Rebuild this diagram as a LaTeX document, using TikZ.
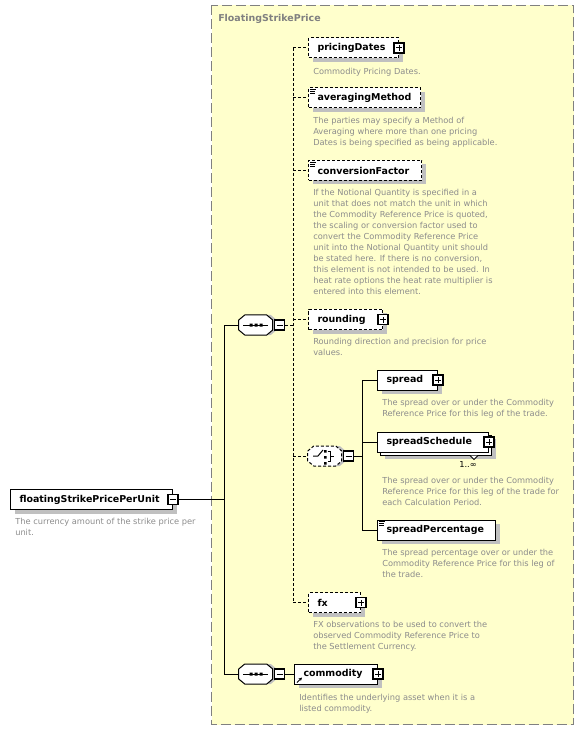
\documentclass[tikz,border=0pt]{standalone}
\usepackage{fontspec}
\setmainfont{DejaVu Sans}
\usetikzlibrary{shadows,arrows.meta}

\definecolor{panelyellow}{RGB}{255,255,204}
\definecolor{panelgray}{RGB}{128,128,128}
\definecolor{descgray}{RGB}{140,140,140}
\definecolor{shadowgray}{RGB}{192,192,192}

\tikzset{
  elembase/.style={draw, fill=white, line width=0.75pt, inner xsep=6.75pt, inner ysep=0pt,
    minimum height=15pt, align=left, anchor=west, font=\bfseries\fontsize{7.1}{8.5}\selectfont},
  elem/.style={elembase, drop shadow={shadow xshift=3pt, shadow yshift=-3pt, fill=shadowgray, opacity=1}},
  optelem/.style={elem, dash pattern=on 2.25pt off 1.5pt},
  plusbox/.style={draw, fill=white, line width=0.9pt, minimum size=7.5pt, inner sep=0pt,
    path picture={\draw[line width=0.75pt] (path picture bounding box.center) ++(-3,0) -- ++(6,0)
      (path picture bounding box.center) ++(0,-3) -- ++(0,6);}},
  minusbox/.style={draw, fill=white, line width=0.9pt, minimum size=7.5pt, inner sep=0pt,
    path picture={\draw[line width=0.75pt] (path picture bounding box.center) ++(-3,0) -- ++(6,0);}},
  seqicon/.style={minimum width=25.5pt, minimum height=15pt, inner sep=0pt},
  octline/.style={line width=0.75pt, fill=white},
  desc/.style={anchor=north west, inner sep=0pt, align=left, text=descgray, font=\fontsize{6.2}{8.25}\selectfont},
  optline/.style={line width=0.75pt, dash pattern=on 2.25pt off 1.5pt},
  reqline/.style={line width=0.75pt}
}

\begin{document}
\begin{tikzpicture}[x=0.75pt,y=0.75pt,yscale=-1,xscale=1]
\useasboundingbox (0,0) rectangle (584,730);

% Panel
\draw [panelgray, fill=panelyellow, line width=0.75pt, dash pattern=on 7.5pt off 3pt] (211.5,5.5) rectangle (573.5,724.5);
% Text Node
\node [anchor=west, inner sep=0pt, text=panelgray, font=\bfseries\fontsize{7.1}{8.5}\selectfont] (panelTitle) at (218,19) {FloatingStrikePrice};

% Root element
\node [elem, text width=108pt] (floatingStrikePricePerUnit) at (10,499.5) {floatingStrikePricePerUnit};
\node [minusbox] (rootMinus) at (floatingStrikePricePerUnit.east) {};
% Text Node
\node [desc] (rootDesc) at (15,517.7) {The currency amount of the strike price per\\unit.};

% Sequence icons
\node [seqicon] (seqA) at (256,325) {};
\fill [shadowgray] (seqA.west) ++(4,-1) -- ++(0,-4) -- ++(6,-5) -- ++(22,0) -- ++(6,5) -- ++(0,10) -- ++(-6,5) -- ++(-22,0) -- ++(-6,-5) -- cycle;
\draw [octline] (seqA.west) ++(0,-5) -- ++(6,-5) -- ++(22,0) -- ++(6,5) -- ++(0,10) -- ++(-6,5) -- ++(-22,0) -- ++(-6,-5) -- cycle;
\node [minusbox, anchor=west] (seqAMinus) at ([xshift=0.5pt]seqA.east) {};
\draw [reqline] (seqA.center) ++(-13,0) -- ++(25,0);
\fill (seqA.center) ++(-6.5,-1.5) rectangle ++(3,3) ++(2,-3) rectangle ++(3,3) ++(2,-3) rectangle ++(3,3);
\node [seqicon] (seqB) at (256,674) {};
\fill [shadowgray] (seqB.west) ++(4,-1) -- ++(0,-4) -- ++(6,-5) -- ++(22,0) -- ++(6,5) -- ++(0,10) -- ++(-6,5) -- ++(-22,0) -- ++(-6,-5) -- cycle;
\draw [octline] (seqB.west) ++(0,-5) -- ++(6,-5) -- ++(22,0) -- ++(6,5) -- ++(0,10) -- ++(-6,5) -- ++(-22,0) -- ++(-6,-5) -- cycle;
\node [minusbox, anchor=west] (seqBMinus) at ([xshift=0.5pt]seqB.east) {};
\draw [reqline] (seqB.center) ++(-13,0) -- ++(25,0);
\fill (seqB.center) ++(-6.5,-1.5) rectangle ++(3,3) ++(2,-3) rectangle ++(3,3) ++(2,-3) rectangle ++(3,3);

% pricingDates
\node [optelem, text width=54pt] (pricingDates) at (308,48) {pricingDates};
\node [plusbox] (pricingDatesPlus) at (pricingDates.east) {};
% Text Node
\node [desc] (pricingDatesDesc) at (313,67.7) {Commodity Pricing Dates.};

% averagingMethod
\node [optelem, text width=70.5pt] (averagingMethod) at (308,98) {averagingMethod};
\draw [line width=0.6pt] (averagingMethod.north west) ++(2,2) -- ++(6,0) ++(-6,2) -- ++(5,0) ++(-5,2) -- ++(5,0);
% Text Node
\node [desc] (averagingMethodDesc) at (313,116.7) {The parties may specify a Method of\\Averaging where more than one pricing\\Dates is being specified as being applicable.};

% conversionFactor
\node [optelem, text width=71.25pt] (conversionFactor) at (308,170.5) {conversionFactor};
\draw [line width=0.6pt] (conversionFactor.north west) ++(2,2) -- ++(6,0) ++(-6,2) -- ++(5,0) ++(-5,2) -- ++(5,0);
% Text Node
\node [desc] (conversionFactorDesc) at (313,189.4) {If the Notional Quantity is specified in a\\unit that does not match the unit in which\\the Commodity Reference Price is quoted,\\the scaling or conversion factor used to\\convert the Commodity Reference Price\\unit into the Notional Quantity unit should\\be stated here. If there is no conversion,\\this element is not intended to be used. In\\heat rate options the heat rate multiplier is\\entered into this element.};

% rounding
\node [optelem, text width=42pt] (rounding) at (308,319.5) {rounding};
\node [plusbox] (roundingPlus) at (rounding.east) {};
% Text Node
\node [desc] (roundingDesc) at (313,338.4) {Rounding direction and precision for price\\values.};

% Choice icon
\node [seqicon] (spreadChoice) at (325,456) {};
\fill [shadowgray] (spreadChoice.west) ++(4,-1) -- ++(0,-4) -- ++(6,-5) -- ++(22,0) -- ++(6,5) -- ++(0,10) -- ++(-6,5) -- ++(-22,0) -- ++(-6,-5) -- cycle;
\draw [octline, dash pattern=on 2.25pt off 1.5pt] (spreadChoice.west) ++(0,-5) -- ++(6,-5) -- ++(22,0) -- ++(6,5) -- ++(0,10) -- ++(-6,5) -- ++(-22,0) -- ++(-6,-5) -- cycle;
\node [minusbox, anchor=west] (spreadChoiceMinus) at ([xshift=0.5pt]spreadChoice.east) {};
\draw [line width=0.75pt] (spreadChoice.center) ++(-12,0) -- ++(5,0) -- ++(5,-6);
\fill (spreadChoice.center) ++(-1,-6) rectangle ++(2.5,2.5) ++(-2.5,3.5) rectangle ++(2.5,2.5) ++(-2.5,3.5) rectangle ++(2.5,2.5);
\draw [line width=0.75pt] (spreadChoice.center) ++(2.5,-5) -- ++(3,0) -- ++(0,10) -- ++(-3,0) ++(3,-5) -- ++(3,0);

% spread
\node [elem, text width=31.5pt] (spread) at (377,380) {spread};
\node [plusbox] (spreadPlus) at (spread.east) {};
% Text Node
\node [desc] (spreadDesc) at (382,399.4) {The spread over or under the Commodity\\Reference Price for this leg of the trade.};

% spreadSchedule
\node [elem, text width=69.75pt] (spreadScheduleBack) at (380,445) {};
\node [elembase, text width=69.75pt] (spreadSchedule) at (377,442) {spreadSchedule};
\node [plusbox] (spreadSchedulePlus) at (spreadSchedule.east) {};
\draw [line width=0.75pt, fill=white] (spreadScheduleBack.south east) ++(-22,0) -- ++(4,4) -- ++(4,-4);
% Text Node
\node [inner sep=0pt, font=\fontsize{6.2}{8.25}\selectfont] (spreadScheduleOccurs) at (468,464) {1..∞};
% Text Node
\node [desc] (spreadScheduleDesc) at (382,477.4) {The spread over or under the Commodity\\Reference Price for this leg of the trade for\\each Calculation Period.};

% spreadPercentage
\node [elem, text width=75pt] (spreadPercentage) at (377,530) {spreadPercentage};
\draw [line width=0.6pt] (spreadPercentage.north west) ++(2,2) -- ++(6,0) ++(-6,2) -- ++(5,0) ++(-5,2) -- ++(5,0);
% Text Node
\node [desc] (spreadPercentageDesc) at (382,549) {The spread percentage over or under the\\Commodity Reference Price for this leg of\\the trade.};

% fx
\node [optelem, text width=25.5pt] (fx) at (308,602.5) {fx};
\node [plusbox] (fxPlus) at (fx.east) {};
% Text Node
\node [desc] (fxDesc) at (313,621) {FX observations to be used to convert the\\observed Commodity Reference Price to\\the Settlement Currency.};

% commodity
\node [elem, text width=48.75pt] (commodity) at (294,674) {commodity};
\node [plusbox] (commodityPlus) at (commodity.east) {};
\draw [line width=0.75pt, -{Stealth[length=2.5pt,width=2.5pt]}] (commodity.south west) ++(3,-2) -- ++(5,-5);
% Text Node
\node [desc] (commodityDesc) at (299,694) {Identifies the underlying asset when it is a\\listed commodity.};

% Connection
\coordinate (rootTrunk) at (224,499.5);
\draw [reqline] (rootMinus.east) -- (rootTrunk);
\draw [reqline] (seqA.west) -- (seqA.west -| rootTrunk) -- (seqB.west -| rootTrunk) -- (seqB.west);
% Connection
\coordinate (seqTrunk) at (293,325);
\draw [optline] (seqAMinus.east) -- (seqTrunk);
\draw [optline] (pricingDates.west -| seqTrunk) -- (fx.west -| seqTrunk);
\draw [optline] (pricingDates.west -| seqTrunk) -- (pricingDates.west);
\draw [optline] (averagingMethod.west -| seqTrunk) -- (averagingMethod.west);
\draw [optline] (conversionFactor.west -| seqTrunk) -- (conversionFactor.west);
\draw [optline] (rounding.west -| seqTrunk) -- (rounding.west);
\draw [optline] (spreadChoice.west -| seqTrunk) -- (spreadChoice.west);
\draw [optline] (fx.west -| seqTrunk) -- (fx.west);
% Connection
\coordinate (choiceTrunk) at (362,456);
\draw [reqline] (spreadChoiceMinus.east) -- (choiceTrunk);
\draw [reqline] (spread.west -| choiceTrunk) -- (spreadPercentage.west -| choiceTrunk);
\draw [reqline] (spread.west -| choiceTrunk) -- (spread.west);
\draw [reqline] (spreadSchedule.west -| choiceTrunk) -- (spreadSchedule.west);
\draw [reqline] (spreadPercentage.west -| choiceTrunk) -- (spreadPercentage.west);
% Connection
\draw [reqline] (seqBMinus.east) -- (commodity.west);

\end{tikzpicture}
\end{document}
